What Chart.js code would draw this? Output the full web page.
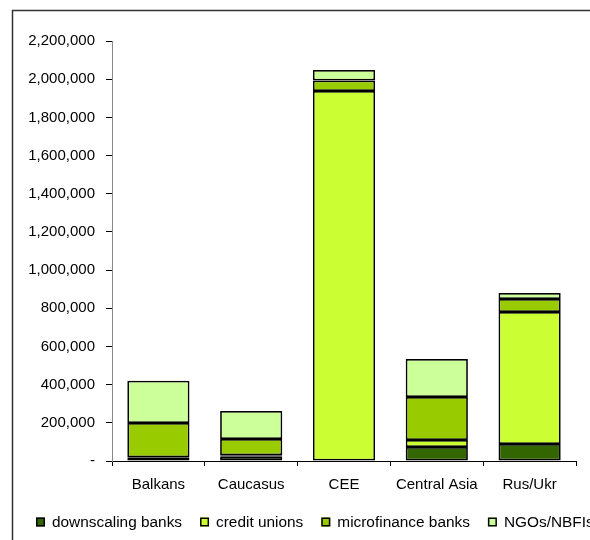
<!DOCTYPE html>
<html>
<head>
<meta charset="utf-8">
<script src="https://cdn.jsdelivr.net/npm/chart.js@4.4.0/dist/chart.umd.min.js"></script>
<style>
  html, body { margin:0; padding:0; background:#fff; }
  #wrap { width:590px; height:540px; position:relative; }
</style>
</head>
<body>
<div id="wrap"><canvas id="chart" width="590" height="540"></canvas></div>
<script>
const regions = ["Balkans","Caucasus","CEE","Central Asia","Rus/Ukr"];

// borrowers by institution type
const downscalingBanks = [3000, 22000, 0, 73000, 89000];
const creditUnions     = [17000, 8000, 1938000, 37000, 691000];
const microfinanceBanks= [179000, 85000, 55000, 225000, 69000];
const ngosNbfis        = [221000, 147000, 55000, 199000, 31000];

const seriesNames  = ["downscaling banks","credit unions","microfinance banks","NGOs/NBFIs"];
const seriesColors = ["#336600","#CCFF33","#99CC00","#CCFF99"];

const yMax = 2200000;
const yStep = 200000;

const FONT = "Liberation Sans, Arial, sans-serif";

// frame round the whole chart + hand drawn legend (last item runs off the edge)
const framePlugin = {
  id:"frame",
  beforeDraw(chart){
    const c = chart.ctx;
    c.save();
    c.strokeStyle = "#333";
    c.lineWidth = 1.5;
    c.beginPath();
    c.moveTo(12.5, 545);
    c.lineTo(12.5, 10.5);
    c.lineTo(600, 10.5);
    c.stroke();
    c.restore();
  },
  afterDraw(chart){
    const c = chart.ctx;
    c.save();
    c.font = "15.4px " + FONT;
    c.textBaseline = "middle";
    let x = 36;
    const y = 522;
    chart.data.datasets.forEach(ds=>{
      c.fillStyle = ds.backgroundColor;
      c.fillRect(x, y-4.5, 9, 9);
      c.strokeStyle = "#000";
      c.lineWidth = 1.5;
      c.strokeRect(x+0.75, y-3.75, 7.5, 7.5);
      c.fillStyle = "#000";
      c.fillText(ds.label, x+16, y+1);
      x += 16 + c.measureText(ds.label).width + 18;
    });
    c.restore();
  }
};

const dataSets = [downscalingBanks, creditUnions, microfinanceBanks, ngosNbfis];

new Chart(document.getElementById("chart"),{
  type:"bar",
  data:{
    labels:regions,
    datasets:dataSets.map((d,i)=>({
      label:seriesNames[i],
      data:d,
      backgroundColor:seriesColors[i],
      borderColor:"#000",
      borderWidth:1.75,
      borderSkipped:false,
      barPercentage:0.67,
      categoryPercentage:1
    }))
  },
  options:{
    responsive:false,
    animation:false,
    layout:{padding:{left:0,right:14,top:41,bottom:0}},
    plugins:{legend:{display:false},tooltip:{enabled:false}},
    scales:{
      x:{
        stacked:true,
        grid:{offset:true,drawOnChartArea:false,tickLength:5,color:"#000"},
        border:{color:"#000",width:1},
        ticks:{color:"#000",font:{family:FONT,size:15},padding:10,maxRotation:0},
        afterFit(s){ s.height = 79; }
      },
      y:{
        stacked:true,
        min:0,max:yMax,
        grid:{drawOnChartArea:false,tickLength:6,color:"#000"},
        border:{color:"#888",width:1},
        ticks:{
          stepSize:yStep,
          color:"#000",
          font:{family:FONT,size:15},
          padding:11,
          callback:v=> v===0 ? "-" : v.toLocaleString("en-US")
        },
        afterFit(s){ s.width = 112; }
      }
    }
  },
  plugins:[framePlugin]
});
</script>
</body>
</html>
